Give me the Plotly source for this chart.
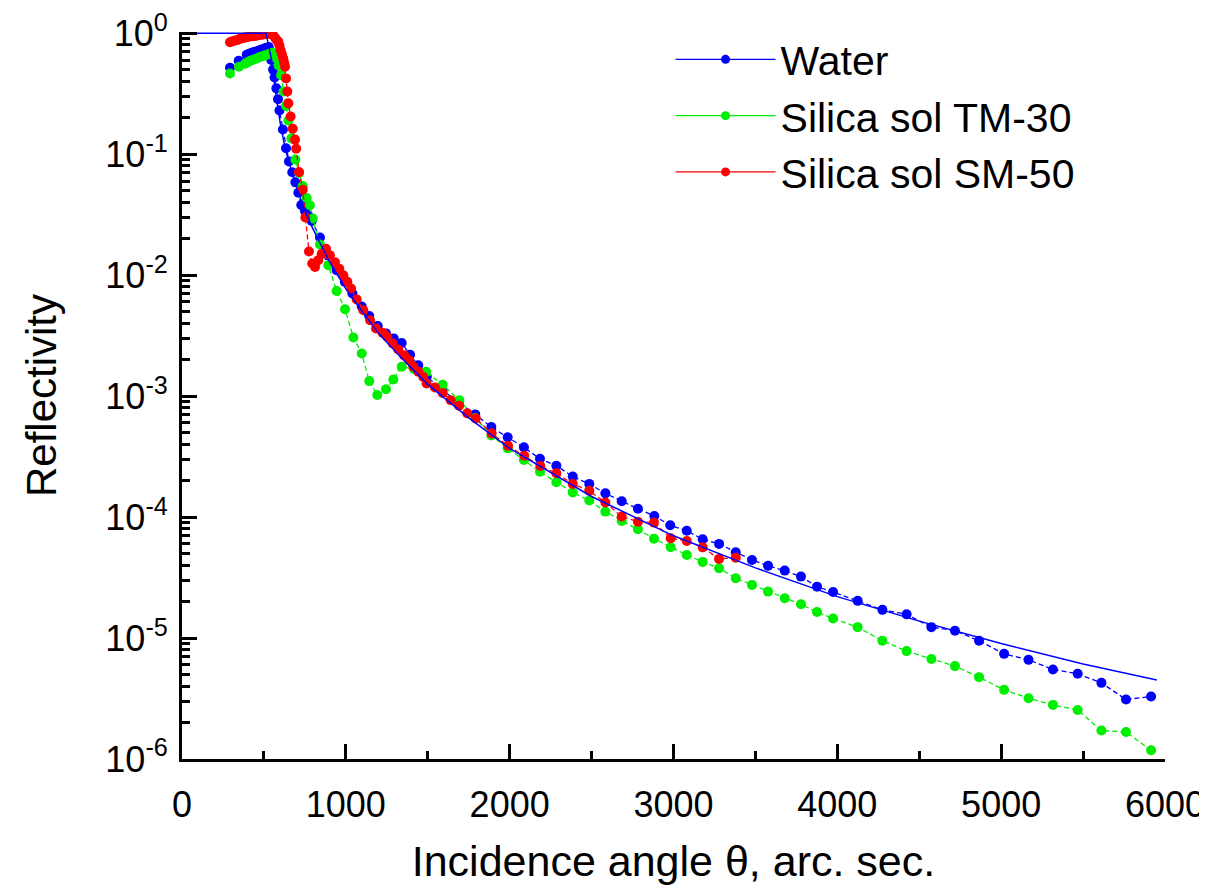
import plotly.graph_objects as go

# ---------------- data ----------------
water_x = [293, 346, 395, 410, 425, 440, 455, 470, 485, 500, 515, 530, 545, 556, 565, 576, 586, 595,
           616, 635, 653, 673, 692, 710, 728, 750, 771, 792, 842, 893, 944, 994, 1040, 1097, 1143,
           1195, 1245, 1292, 1341, 1392, 1442, 1494, 1590, 1690, 1790, 1888, 1988, 2087, 2185, 2285,
           2385, 2486, 2584, 2684, 2783, 2883, 2980, 3081, 3178, 3278, 3380, 3479, 3577, 3679, 3778,
           3876, 3974, 4124, 4275, 4423, 4574, 4718, 4865, 5018, 5167, 5316, 5467, 5612, 5762, 5915]
water_r = [0.518, 0.592, 0.664, 0.675, 0.69, 0.70, 0.71, 0.72, 0.735, 0.745, 0.76, 0.77, 0.60, 0.50,
           0.43, 0.35, 0.285, 0.23, 0.16, 0.112, 0.087, 0.071, 0.0585, 0.048, 0.038, 0.034, 0.031,
           0.028, 0.0205, 0.0145, 0.011, 0.0088, 0.00705, 0.0055, 0.0046, 0.0038, 0.0033, 0.0030,
           0.00275, 0.0022, 0.0018, 0.00145, 0.00112, 0.00088, 0.000706, 0.000555, 0.000456,
           0.000377, 0.000303, 0.000266, 0.000216, 0.000188, 0.000157, 0.000135, 0.000117, 0.000102,
           8.55e-5, 7.7e-5, 6.56e-5, 6.0e-5, 5.12e-5, 4.42e-5, 3.95e-5, 3.61e-5, 3.22e-5, 2.66e-5,
           2.4e-5, 2.03e-5, 1.71e-5, 1.57e-5, 1.23e-5, 1.15e-5, 9.5e-6, 7.4e-6, 6.6e-6, 5.5e-6,
           5.06e-6, 4.26e-6, 3.1e-6, 3.29e-6]

tm30_x = [293, 348, 385, 400, 415, 430, 445, 460, 475, 490, 505, 520, 535, 550, 560, 575, 590, 605,
          620, 635, 649, 668, 692, 715, 737, 761, 781, 798, 842, 893, 944, 995, 1046, 1097, 1143,
          1192, 1245, 1290, 1341, 1415, 1490, 1591, 1693, 1790, 1888, 1988, 2087, 2185, 2285, 2385,
          2486, 2584, 2684, 2783, 2881, 2983, 3081, 3178, 3278, 3380, 3479, 3577, 3679, 3778, 3876,
          3974, 4124, 4275, 4423, 4574, 4718, 4865, 5018, 5167, 5316, 5467, 5612, 5762, 5915]
tm30_r = [0.465, 0.528, 0.56, 0.575, 0.59, 0.60, 0.61, 0.62, 0.635, 0.645, 0.655, 0.665, 0.68, 0.69,
          0.68, 0.62, 0.54, 0.45, 0.33, 0.25, 0.19, 0.135, 0.09, 0.07, 0.0545, 0.0434, 0.0378,
          0.0294, 0.0179, 0.0121, 0.0074, 0.00522, 0.00305, 0.00225, 0.00133, 0.00102, 0.00114,
          0.00137, 0.00175, 0.00168, 0.00159, 0.00124, 0.000926, 0.00066, 0.000473, 0.00037,
          0.000296, 0.000237, 0.000194, 0.00016, 0.000137, 0.000111, 9.29e-5, 7.93e-5, 6.63e-5,
          5.63e-5, 4.86e-5, 4.26e-5, 3.78e-5, 3.12e-5, 2.75e-5, 2.42e-5, 2.13e-5, 1.90e-5, 1.64e-5,
          1.45e-5, 1.23e-5, 9.5e-6, 7.8e-6, 6.7e-6, 5.86e-6, 4.75e-6, 3.73e-6, 3.18e-6, 2.8e-6,
          2.54e-6, 1.72e-6, 1.67e-6, 1.18e-6]

sm50_x = [293, 310, 324, 340, 354, 370, 385, 400, 415, 430, 445, 460, 475, 490, 505, 520, 535, 548,
          557, 568, 578, 588, 595, 602, 610, 618, 624, 629, 635, 643, 649, 663, 676, 690, 697, 714,
          737, 753, 775, 795, 812, 832, 853, 879, 903, 934, 960, 985, 1009, 1032, 1066, 1107, 1148,
          1184, 1225, 1253, 1286, 1320, 1355, 1387, 1412, 1442, 1473, 1493, 1544, 1591, 1640, 1691,
          1741, 1793, 1890, 1990, 2089, 2187, 2285, 2385, 2486, 2584, 2684, 2783, 2881, 2983, 3081,
          3178, 3278, 3380]
sm50_r = [0.843, 0.86, 0.87, 0.88, 0.90, 0.91, 0.92, 0.93, 0.94, 0.945, 0.95, 0.957, 0.965, 0.97,
          0.98, 0.99, 0.99, 0.98, 0.963, 0.916, 0.88, 0.849, 0.79, 0.724, 0.67, 0.618, 0.57, 0.528,
          0.423, 0.33, 0.263, 0.205, 0.162, 0.132, 0.111, 0.0711, 0.0509, 0.030, 0.0157, 0.0125,
          0.0117, 0.0133, 0.015, 0.0165, 0.0146, 0.0128, 0.0113, 0.00997, 0.0088, 0.00775, 0.0063,
          0.00513, 0.00424, 0.00362, 0.00333, 0.00309, 0.00272, 0.00243, 0.00218, 0.00198,
          0.00175, 0.00159, 0.00144, 0.00127, 0.00118, 0.00106, 0.000926, 0.000832, 0.00072,
          0.000654, 0.000492, 0.000389, 0.000321, 0.000264, 0.00023, 0.000188, 0.000165, 0.000132,
          0.000101, 9.16e-5, 9.0e-5, 6.68e-5, 6.34e-5, 5.62e-5, 4.51e-5, 4.62e-5]

theory_x = [0, 513, 547, 560, 575, 600, 625, 650, 700, 750, 800, 900, 1000, 1100, 1200, 1350, 1500,
            1750, 2000, 2500, 3000, 3500, 4000, 4500, 5000, 5500, 5950]
theory_r = [1.0, 1.0, 0.6, 0.42, 0.30, 0.18, 0.12, 0.088, 0.053, 0.034, 0.024, 0.0129, 0.0077,
            0.0050, 0.0033, 0.0020, 0.00125, 0.00066, 0.00037, 0.000148, 7.0e-5, 3.8e-5, 2.2e-5,
            1.38e-5, 9.0e-6, 6.1e-6, 4.5e-6]

series_names = ["Water", "Silica sol TM-30", "Silica sol SM-50"]
series_colors = ["#0000FF", "#00EE00", "#FF0000"]

x_tickvals = [0, 1000, 2000, 3000, 4000, 5000, 6000]
x_ticktext = ["0", "1000", "2000", "3000", "4000", "5000", "6000"]
y_exponents = [0, -1, -2, -3, -4, -5, -6]

# ---------------- figure ----------------
FONT = "Arial, Liberation Sans, sans-serif"
fig = go.Figure()

for xs, ys, name, col in zip([water_x, tm30_x, sm50_x], [water_r, tm30_r, sm50_r],
                             series_names, series_colors):
    fig.add_trace(go.Scatter(x=xs, y=ys, mode="lines+markers", name=name, showlegend=False,
                             line=dict(color=col, width=1.3, dash="5px,3px"),
                             marker=dict(color=col, size=10)))

fig.add_trace(go.Scatter(x=theory_x, y=theory_r, mode="lines", showlegend=False,
                         line=dict(color="#0000FF", width=1.5)))

# legend entries
for name, col in zip(series_names, series_colors):
    fig.add_trace(go.Scatter(x=[None], y=[None], mode="lines+markers", name=name,
                             line=dict(color=col, width=1.3),
                             marker=dict(color=col, size=9)))

minor_y = [m * 10.0 ** e for e in range(-6, 0) for m in range(2, 10)]

# the page body adds an 8px offset, so the figure is slightly smaller than the window
fig.update_layout(
    width=1199, height=879,
    margin=dict(l=174, r=42, t=24, b=128),
    plot_bgcolor="white", paper_bgcolor="white",
    font=dict(family=FONT, color="black", size=36),
    legend=dict(x=0.497, y=1.008, xanchor="left", yanchor="top",
                font=dict(size=41, family=FONT), bgcolor="rgba(0,0,0,0)",
                itemwidth=100, tracegroupgap=0),
    xaxis=dict(
        range=[0, 6000], showgrid=False, zeroline=False, automargin=False,
        showline=True, linecolor="black", linewidth=3, mirror=False,
        tickmode="array", tickvals=x_tickvals, ticktext=x_ticktext,
        ticks="inside", ticklen=15, tickwidth=3, tickcolor="black",
        tickfont=dict(size=36, family=FONT), ticklabelstandoff=12,
        ticklabeloverflow="allow",
        minor=dict(tickmode="array", tickvals=[500, 1500, 2500, 3500, 4500, 5500],
                   ticks="inside", ticklen=8, tickwidth=3, tickcolor="black"),
        title=dict(text="Incidence angle θ, arc. sec.", font=dict(size=43, family=FONT),
                   standoff=22),
    ),
    yaxis=dict(
        type="log", range=[-6, 0.01], showgrid=False, zeroline=False, automargin=False,
        showline=True, linecolor="black", linewidth=3, mirror=False,
        tickmode="array", tickvals=[10.0 ** e for e in y_exponents],
        ticktext=["10<sup>%s</sup>" % e for e in y_exponents],
        ticks="inside", ticklen=15, tickwidth=3, tickcolor="black",
        tickfont=dict(size=36, family=FONT), ticklabelstandoff=4,
        ticklabeloverflow="allow",
        minor=dict(tickmode="array", tickvals=minor_y,
                   ticks="inside", ticklen=8, tickwidth=3, tickcolor="black"),
        title=dict(text="Reflectivity", font=dict(size=42, family=FONT), standoff=36),
    ),
)

fig.write_html("out.html")
